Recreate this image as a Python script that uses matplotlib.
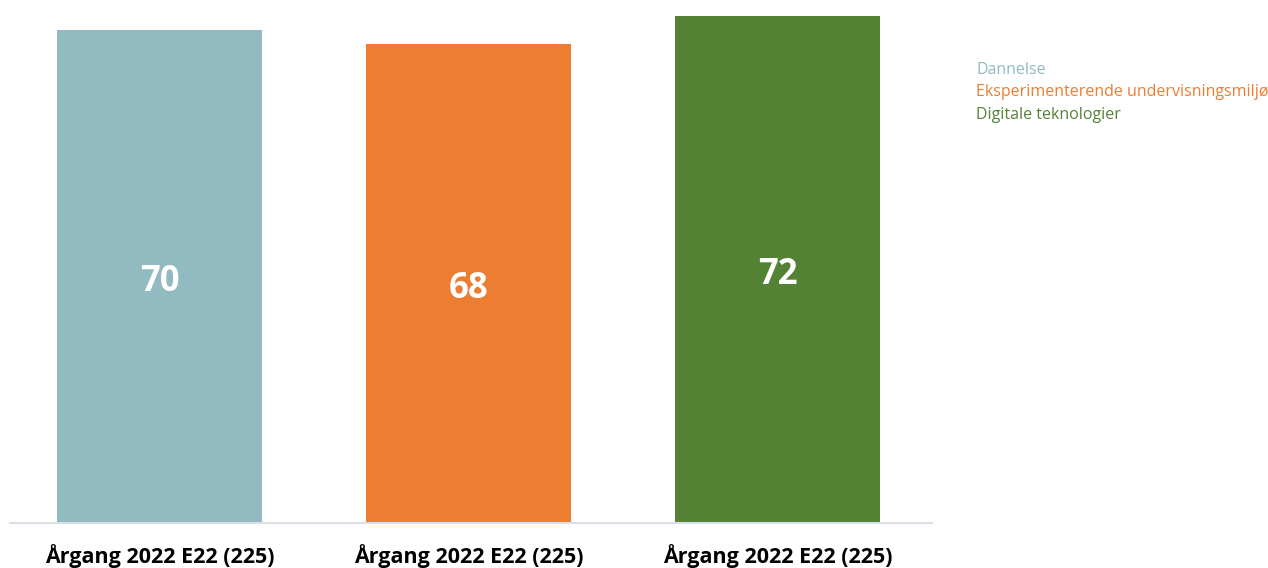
import matplotlib.pyplot as plt

# data
categories = ['Årgang 2022 E22 (225)', 'Årgang 2022 E22 (225)', 'Årgang 2022 E22 (225)']
series = ['Dannelse', 'Eksperimenterende undervisningsmiljø', 'Digitale teknologier']
values = [70, 68, 72]
colors = ['#91BAC1', '#ED7D31', '#548235']

plt.rcParams['font.family'] = ['Open Sans', 'DejaVu Sans']

fig = plt.figure(figsize=(12.68, 5.68), dpi=100)
ax = fig.add_axes([10 / 1268, 1 - 523 / 568, 922 / 1268, 507 / 568])

x = list(range(len(values)))
bars = ax.bar(x, values, width=0.663, color=colors)

for b, v in zip(bars, values):
    ax.annotate(str(v), (b.get_x() + b.get_width() / 2, v / 2), xytext=(0, -4),
                textcoords='offset points', ha='center', va='center',
                color='white', fontsize=25, fontweight='bold')

ax.set_xlim(-0.484, 2.5)
ax.set_ylim(0, 72)
ax.set_yticks([])
ax.set_xticks(x)
ax.set_xticklabels(categories, fontsize=15.5, fontweight='bold')
ax.tick_params(axis='x', length=0, pad=15)
for s in ['top', 'right', 'left']:
    ax.spines[s].set_visible(False)
ax.spines['bottom'].set_color('#D9DEE8')
ax.spines['bottom'].set_linewidth(1.5)

# legend as coloured text
for i, (name, c) in enumerate(zip(series, colors)):
    fig.text(976 / 1268, 1 - (70 + i * 22.5) / 568, name, color=c, fontsize=11.5,
             ha='left', va='center')

fig.savefig('out.png', dpi=100)
